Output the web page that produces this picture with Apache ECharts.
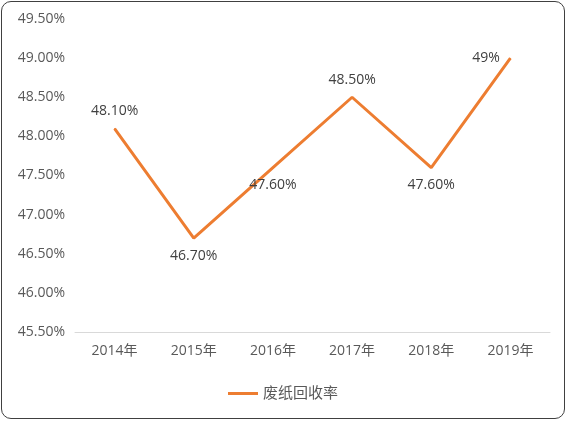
<!DOCTYPE html>
<html>
<head>
<meta charset="utf-8">
<script src="https://cdn.jsdelivr.net/npm/echarts@6/dist/echarts.min.js"></script>
<style>
html, body { margin: 0; padding: 0; background: #fff; }
#chart { position: absolute; left: 1px; top: 1px; width: 564px; height: 418px; border: 1px solid #404040; border-radius: 10px; box-sizing: border-box; }
</style>
</head>
<body>
<div id="chart"></div>
<script>
// 数据 | Data
const years = ['2014年', '2015年', '2016年', '2017年', '2018年', '2019年'];
const rates = [48.1, 46.7, 47.6, 48.5, 47.6, 49.0];
const rateLabels = ['48.10%', '46.70%', '47.60%', '48.50%', '47.60%', '49%'];
const labelPos = ['top', 'bottom', 'bottom', 'top', 'bottom', 'left'];

const chart = echarts.init(document.getElementById('chart'));
const font = 'Open Sans, Noto Sans CJK SC, sans-serif';

chart.setOption({
    textStyle: { fontFamily: font },
    grid: { left: 73, right: 14, top: 17, bottom: 86 },
    legend: {
        bottom: 12,
        itemWidth: 30,
        icon: 'rect',
        itemHeight: 3,
        textStyle: { color: '#595959', fontSize: 15, fontFamily: font },
        data: ['废纸回收率']
    },
    xAxis: {
        type: 'category',
        data: years,
        axisTick: { show: false },
        axisLine: { lineStyle: { color: '#d9d9d9' } },
        axisLabel: { color: '#595959', fontSize: 14, margin: 12 }
    },
    yAxis: {
        type: 'value',
        min: 45.5,
        max: 49.5,
        interval: 0.5,
        axisLine: { show: false },
        splitLine: { show: false },
        axisLabel: {
            color: '#595959',
            fontSize: 14,
            margin: 10,
            formatter: v => v.toFixed(2) + '%'
        }
    },
    series: [{
        name: '废纸回收率',
        type: 'line',
        data: rates.map((v, i) => ({
            value: v,
            label: { position: labelPos[i], formatter: rateLabels[i] }
        })),
        symbol: 'circle',
        symbolSize: 1,
        showSymbol: true,
        lineStyle: { color: '#ED7D31', width: 3 },
        itemStyle: { color: '#ED7D31' },
        label: { show: true, color: '#404040', fontSize: 14, distance: 10 }
    }]
});
</script>
</body>
</html>
